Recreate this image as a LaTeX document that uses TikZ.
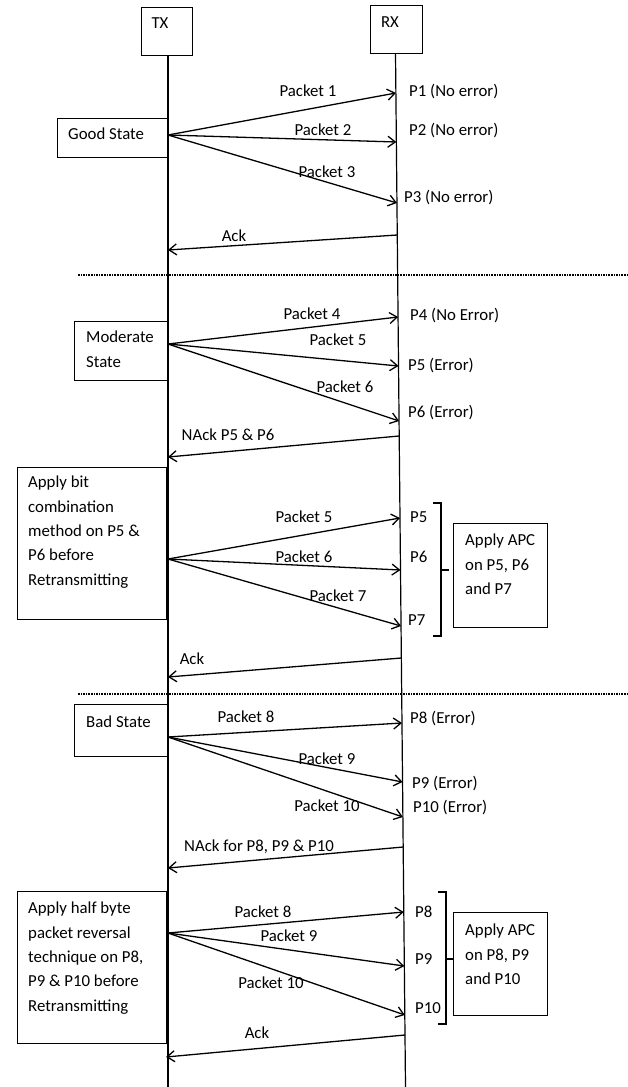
\documentclass[tikz,border=0pt]{standalone}
\usepackage{fontspec}
\setmainfont{Carlito}
\usetikzlibrary{arrows.meta}
\begin{document}
\begin{tikzpicture}[x=1pt,y=-1pt,
  every node/.style={font=\fontsize{16.8}{24.3}\selectfont, inner sep=0pt},
  box/.style={draw, line width=1.4pt, anchor=north west},
  life/.style={line width=1.2pt},
  pkt/.style={line width=1.3pt, -{Straight Barb[length=7.5pt,width=11pt,line width=1.3pt]}},
  sep/.style={line width=1.4pt, dash pattern=on 1.6pt off 1pt},
  brk/.style={line width=1.1pt},
  lab/.style={anchor=base},
  rlab/.style={anchor=base west},
  btxt/.style={anchor=north west, align=left}]
\useasboundingbox (0,0) rectangle (627,1087);

% actors
\node[box, minimum width=51pt, minimum height=48pt] (tx) at (141,7) {};
\node[lab] (txl) at (160,28.5) {TX};
\node[box, minimum width=52pt, minimum height=48pt] (rx) at (370,5) {};
\node[lab] (rxl) at (390,27.5) {RX};
\coordinate (txtop) at (168,55);
\coordinate (txbot) at (168,1087);
\coordinate (rxtop) at (395.5,53);
\coordinate (rxbot) at (405.5,1087);
\draw[life] (txtop) -- (txbot);
\draw[life] (rxtop) -- (rxbot);

% separators
\coordinate (d1a) at (78,275); \coordinate (d1b) at (627,275);
\coordinate (d2a) at (78,694); \coordinate (d2b) at (627,694);
\draw[sep] (d1a) -- (d1b);
\draw[sep] (d2a) -- (d2b);

% ---------- Good state ----------
\node[box, minimum width=111pt, minimum height=39pt] (good) at (57,118) {};
\node[anchor=base west] (goodt) at (68,139.5) {Good State};
\coordinate (g) at (168,135);
\coordinate (r1) at (395.9,93);
\coordinate (r2) at (396.4,142);
\coordinate (r3) at (397.0,203);
\coordinate (ra1) at (397.3,235);
\coordinate (ta1) at (168,250);
\draw[pkt] (g) -- (r1);
\draw[pkt] (g) -- (r2);
\draw[pkt] (g) -- (r3);
\draw[pkt] (ra1) -- (ta1);
\node[lab] (l1) at (308,96.5) {Packet 1};
\node[lab] (l2) at (323,135.5) {Packet 2};
\node[lab] (l3) at (327,177.5) {Packet 3};
\node[lab] (la1) at (234,241.5) {Ack};
\node[rlab] (p1) at (409,96.5) {P1 (No error)};
\node[rlab] (p2) at (409,135.5) {P2 (No error)};
\node[rlab] (p3) at (404,202.5) {P3 (No error)};

% ---------- Moderate state ----------
\node[box, minimum width=93pt, minimum height=59pt] (mod) at (74,321) {};
\node[btxt] (modt) at (86,331) {Moderate\\State};
\coordinate (m) at (168,344);
\coordinate (r4) at (398.1,317);
\coordinate (r5) at (398.5,366);
\coordinate (r6) at (399.1,421);
\coordinate (rn1) at (399.2,436);
\coordinate (tn1) at (168,457);
\draw[pkt] (m) -- (r4);
\draw[pkt] (m) -- (r5);
\draw[pkt] (m) -- (r6);
\draw[pkt] (rn1) -- (tn1);
\node[lab] (l4) at (312,319.5) {Packet 4};
\node[lab] (l5) at (338,345.5) {Packet 5};
\node[lab] (l6) at (345,392.5) {Packet 6};
\node[lab] (ln1) at (228,440.5) {NAck P5 \& P6};
\node[rlab] (p4) at (410,320.5) {P4 (No Error)};
\node[rlab] (p5) at (408,370.5) {P5 (Error)};
\node[rlab] (p6) at (408,417.5) {P6 (Error)};

% ---------- Bit combination retransmission ----------
\node[box, minimum width=149pt, minimum height=152pt] (bit) at (17,467) {};
\node[btxt] (bitt) at (28,476) {Apply bit\\combination\\method on P5 \&\\P6 before\\Retransmitting};
\coordinate (b) at (168,559);
\coordinate (r5b) at (400.0,518);
\coordinate (r6b) at (400.5,570);
\coordinate (r7b) at (401.0,626);
\coordinate (ra2) at (401.4,658);
\coordinate (ta2) at (168,677);
\draw[pkt] (b) -- (r5b);
\draw[pkt] (b) -- (r6b);
\draw[pkt] (b) -- (r7b);
\draw[pkt] (ra2) -- (ta2);
\node[lab] (l5b) at (304,522.5) {Packet 5};
\node[lab] (l6b) at (304,562.5) {Packet 6};
\node[lab] (l7b) at (338,601.5) {Packet 7};
\node[lab] (la2) at (192,664.5) {Ack};
\node[rlab] (p5b) at (410,522.5) {P5};
\node[rlab] (p6b) at (410,562.5) {P6};
\node[rlab] (p7b) at (408,625.5) {P7};
\draw[brk] (433,503) -- (441,503) -- (441,636) -- (433,636);
\draw[brk] (441,570) -- (449,570);
\node[box, minimum width=94pt, minimum height=104pt] (apc1) at (453,523) {};
\node[btxt] (apc1t) at (465,534) {Apply APC\\on P5, P6\\and P7};

% ---------- Bad state ----------
\node[box, minimum width=93pt, minimum height=52pt] (bad) at (74,704) {};
\node[anchor=base west] (badt) at (86,727.5) {Bad State};
\coordinate (s) at (168,737);
\coordinate (r8) at (402.0,723);
\coordinate (r9) at (402.6,782);
\coordinate (r10) at (402.9,817);
\coordinate (rn2) at (403.2,847);
\coordinate (tn2) at (168,868);
\draw[pkt] (s) -- (r8);
\draw[pkt] (s) -- (r9);
\draw[pkt] (s) -- (r10);
\draw[pkt] (rn2) -- (tn2);
\node[lab] (l8) at (246,722.5) {Packet 8};
\node[lab] (l9) at (327,764.5) {Packet 9};
\node[lab] (l10) at (327,811.5) {Packet 10};
\node[lab] (ln2) at (259,851.5) {NAck for P8, P9 \& P10};
\node[rlab] (p8) at (410,723.5) {P8 (Error)};
\node[rlab] (p9) at (412,788.5) {P9 (Error)};
\node[rlab] (p10) at (413,812.5) {P10 (Error)};

% ---------- Half byte reversal retransmission ----------
\node[box, minimum width=149pt, minimum height=152pt] (half) at (17,891) {};
\node[btxt] (halft) at (28,902) {Apply half byte\\packet reversal\\technique on P8,\\P9 \& P10 before\\Retransmitting};
\coordinate (h) at (168,933);
\coordinate (r8b) at (403.8,912);
\coordinate (r9b) at (404.3,966);
\coordinate (r10b) at (404.8,1015);
\coordinate (ra3) at (405.0,1035);
\coordinate (ta3) at (166,1057);
\draw[pkt] (h) -- (r8b);
\draw[pkt] (h) -- (r9b);
\draw[pkt] (h) -- (r10b);
\draw[pkt] (ra3) -- (ta3);
\node[lab] (l8b) at (263,917.5) {Packet 8};
\node[lab] (l9b) at (289,941.5) {Packet 9};
\node[lab] (l10b) at (271,988.5) {Packet 10};
\node[lab] (la3) at (257,1038.5) {Ack};
\node[rlab] (p8b) at (415,917.5) {P8};
\node[rlab] (p9b) at (415,964.5) {P9};
\node[rlab] (p10b) at (415,1013.5) {P10};
\draw[brk] (438,892) -- (446,892) -- (446,1024) -- (438,1024);
\draw[brk] (446,959) -- (453,959);
\node[box, minimum width=94pt, minimum height=103pt] (apc2) at (453,912) {};
\node[btxt] (apc2t) at (465,924) {Apply APC\\on P8, P9\\and P10};
\end{tikzpicture}
\end{document}
